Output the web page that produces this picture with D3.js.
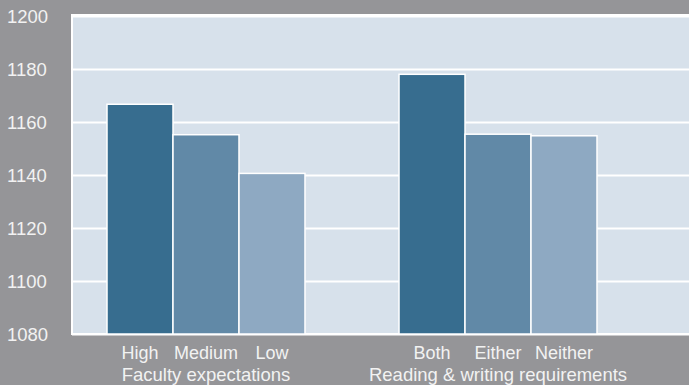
<!DOCTYPE html>
<html>
<head>
<meta charset="utf-8">
<script src="https://cdn.jsdelivr.net/npm/d3@7"></script>
<style>
  html, body { margin: 0; padding: 0; background: #959598; }
  svg { display: block; }
</style>
</head>
<body>
<div id="chart"></div>
<script>
// chart data
const groups = ["Faculty expectations", "Reading & writing requirements"];
const groupCategories = [
    ["High", "Medium", "Low"],
    ["Both", "Either", "Neither"]
];
const groupValues = [
    [1166.7, 1155.2, 1140.6],
    [1178.0, 1155.4, 1154.8]
];
const yTicks = [1080, 1100, 1120, 1140, 1160, 1180, 1200];

const width = 689, height = 385;
const margin = { top: 16, right: 0, bottom: 51, left: 72 };

// shades per position inside a group
const barColors = ["#376d8f", "#6189a7", "#8ea9c2"];

const svg = d3.select("#chart")
    .append("svg")
    .attr("width", width)
    .attr("height", height)
    .style("font-family", "'Liberation Sans', Arial, sans-serif");

svg.append("rect")
    .attr("width", width)
    .attr("height", height)
    .attr("fill", "#959598");

// Y scale
const y = d3.scaleLinear()
    .domain([1080, 1200])
    .range([height - margin.bottom, margin.top]);

// outer band for groups, inner band for bars
const x0 = d3.scaleBand()
    .domain(groups)
    .range([107, 597])
    .paddingInner(0.322)
    .paddingOuter(0);

const x1 = d3.scaleBand()
    .domain([0, 1, 2])
    .range([0, x0.bandwidth()])
    .padding(0);

// plot background
svg.append("rect")
    .attr("x", margin.left)
    .attr("y", y(1200) - 1)
    .attr("width", width - margin.left - margin.right + 2)
    .attr("height", y(1080) - y(1200) + 1)
    .attr("fill", "#d7e1eb")
    .attr("stroke", "#ffffff")
    .attr("stroke-width", 2);

//Grid lines
const yAxis = svg.append("g")
    .attr("class", "yAxis")
    .attr("transform", `translate(${margin.left},0)`)
    .call(d3.axisLeft(y).tickValues(yTicks).tickFormat(d3.format("d")).tickSize(0));

yAxis.select(".domain").remove();
yAxis.selectAll(".tick line")
    .attr("x2", width - margin.left)
    .attr("stroke", "#ffffff")
    .attr("stroke-width", 2);
yAxis.selectAll(".tick text")
    .attr("fill", "#f2f2f2")
    .attr("font-size", "18.5px")
    .attr("font-family", "'Liberation Sans Narrow', 'Liberation Sans', Arial, sans-serif")
    .attr("text-anchor", "start")
    .attr("x", -65)
    .attr("dy", "0.36em");

// bars
const groupG = svg.selectAll("g.group")
    .data(groups)
    .enter()
    .append("g")
    .attr("class", "group")
    .attr("transform", (d) => `translate(${x0(d)},0)`);

groupG.selectAll("rect.bar")
    .data((d, i) => groupValues[i].map((v, j) => ({ v: v, j: j })))
    .enter()
    .append("rect")
    .attr("class", "bar")
    .attr("x", (d) => x1(d.j))
    .attr("y", (d) => y(d.v))
    .attr("width", x1.bandwidth())
    .attr("height", (d) => y(1080) - y(d.v))
    .attr("fill", (d) => barColors[d.j])
    .attr("stroke", "#ffffff")
    .attr("stroke-width", 1.5);

// category labels
groupG.selectAll("text.cat")
    .data((d, i) => groupCategories[i])
    .enter()
    .append("text")
    .attr("class", "cat")
    .attr("x", (d, j) => x1(j) + x1.bandwidth() / 2)
    .attr("y", 359)
    .attr("text-anchor", "middle")
    .attr("fill", "#f2f2f2")
    .attr("font-size", "18px")
    .text((d) => d);

// group labels
groupG.append("text")
    .attr("x", x0.bandwidth() / 2)
    .attr("y", 381)
    .attr("text-anchor", "middle")
    .attr("fill", "#f2f2f2")
    .attr("font-size", "18.5px")
    .text((d) => d);
</script>
</body>
</html>
